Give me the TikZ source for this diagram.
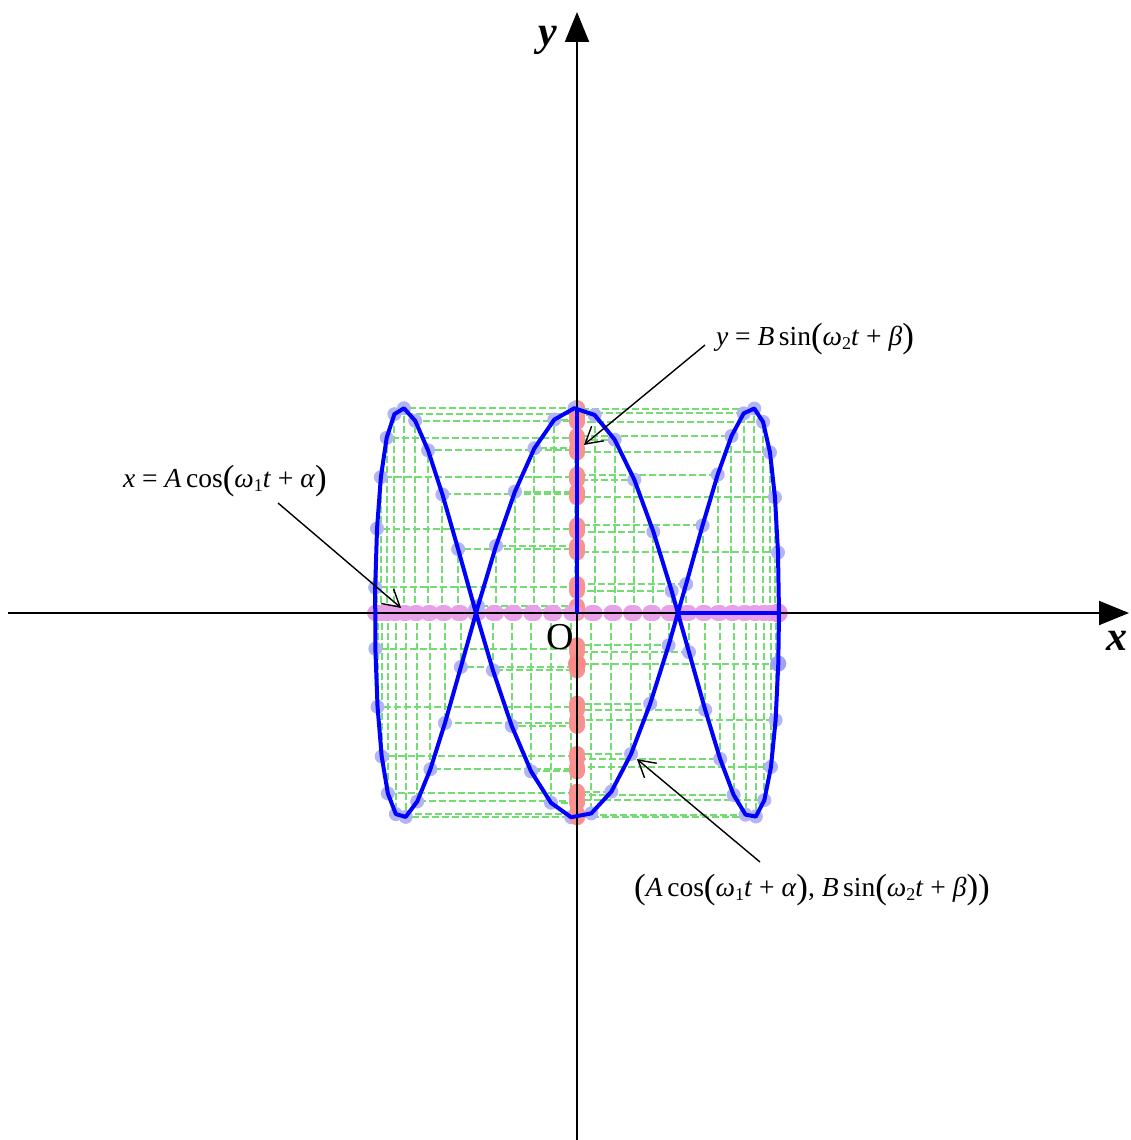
\documentclass[tikz,border=0pt]{standalone}
\usepackage{fontspec}
\setmainfont{Liberation Serif}
\usetikzlibrary{arrows.meta,calc}
\definecolor{gdash}{RGB}{115,220,115}
\definecolor{bdot}{RGB}{178,180,245}
\definecolor{pdot}{RGB}{232,160,232}
\definecolor{rdot}{RGB}{250,145,145}
\definecolor{cblue}{RGB}{0,0,255}
\newcommand\mv[1]{\textit{#1}}
\newcommand\lpar{{\fontsize{35}{35}\selectfont\raisebox{-2pt}{(}}}
\newcommand\rpar{{\fontsize{35}{35}\selectfont\raisebox{-2pt}{)}}}
\newcommand\sbs[1]{\raisebox{-4pt}{\fontsize{18}{18}\selectfont #1}}
\begin{document}
\begin{tikzpicture}[x=1pt,y=-1pt,
  gdashed/.style={draw=gdash,line width=2pt,dash pattern=on 7pt off 3pt},
  axisline/.style={line width=2pt,-{Triangle[length=30pt,width=24pt]}},
  curveline/.style={draw=cblue,line width=4pt,line join=round},
  annline/.style={line width=1.4pt},
  lbl/.style={font=\fontsize{27.5}{27.5}\selectfont,inner sep=0pt},
  axlbl/.style={font=\fontsize{42}{42}\selectfont\bfseries\itshape,inner sep=0pt}]
\useasboundingbox (0,0) rectangle (1130,1140);
\fill[white] (0,0) rectangle (1130,1140);
% projection lines
\foreach \k in {0,...,62}{
  \pgfmathsetmacro\px{577+202*cos(\k*5.729578)}
  \pgfmathsetmacro\py{613-205*sin(3*\k*5.729578)}
  \draw[gdashed] (\px,613) -- (\px,\py) -- (577,\py);
}
% projection dots
\foreach \k in {0,...,61}{
  \pgfmathsetmacro\px{577+202*cos(\k*5.729578)}
  \pgfmathsetmacro\py{613-205*sin(3*\k*5.729578)}
  \fill[rdot] (577,\py) circle (8pt);
  \fill[pdot] (\px,613) circle (8pt);
  \fill[bdot] (\px,\py) circle (7pt);
}
\pgfmathsetmacro\qx{577+202*cos(62*5.729578)}
\pgfmathsetmacro\qy{613-205*sin(3*62*5.729578)}
\fill[rdot!95!red] (577,\qy) circle (9pt);
\fill[pdot!95!magenta] (\qx,613) circle (9.5pt);
\fill[bdot!90!blue] (\qx,\qy) circle (8pt);
% axes
\coordinate (xl) at (8,613);
\coordinate (xr) at (1129,613);
\coordinate (yb) at (577,1140);
\coordinate (yt) at (577,12);
\draw[axisline] (xl) -- (xr);
\draw[axisline] (yb) -- (yt);
\node[axlbl] (ylab) at (548,40) {y};
\node[axlbl] (xlab) at (1117,641) {x};
\node[font=\fontsize{38}{38}\selectfont,inner sep=0pt] (olab) at (560,637) {O};
% curve
\draw[curveline] plot[domain=0:6.2,samples=63,variable=\t] ({577+202*cos(\t r)},{613-205*sin(3*\t r)}) -- cycle;
\coordinate (ytop) at (577,408);
\coordinate (org) at (577,613);
\coordinate (xc) at (678,613);
\coordinate (xa) at (779,613);
\draw[curveline] (ytop) -- (org);
\draw[curveline] (xc) -- (xa);
% annotations
\node[lbl] (L1) at (225,481) {\mv{x} = \mv{A}\,cos\lpar\mv{ω}\sbs{1}\mv{t} + \mv{α}\rpar};
\node[lbl] (L2) at (815,339) {\mv{y} = \mv{B}\,sin\lpar\mv{ω}\sbs{2}\mv{t} + \mv{β}\rpar};
\node[lbl] (L3) at (812,890) {\lpar\mv{A}\,cos\lpar\mv{ω}\sbs{1}\mv{t} + \mv{α}\rpar, \mv{B}\,sin\lpar\mv{ω}\sbs{2}\mv{t} + \mv{β}\rpar\rpar};
\coordinate (s1) at (278,503);
\coordinate (e1) at (400,607);
\coordinate (s2) at (705,345);
\coordinate (e2) at (585,444);
\coordinate (s3) at (760,862);
\coordinate (e3) at (638,760);
\foreach \s/\e in {s1/e1,s2/e2,s3/e3}{
  \draw[annline] (\s) -- (\e);
  \draw[annline,line join=miter] ($(\e)!19pt!30:(\s)$) -- (\e) -- ($(\e)!19pt!-30:(\s)$);
}
\end{tikzpicture}
\end{document}
